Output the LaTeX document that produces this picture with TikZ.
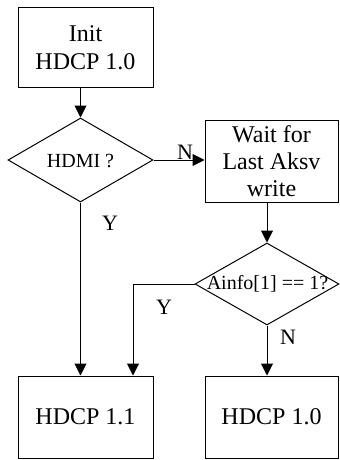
\documentclass[tikz,border=0pt]{standalone}
\usepackage{fontspec}
\setmainfont{Liberation Serif}
\usetikzlibrary{arrows.meta,shapes.geometric}
\begin{document}
\begin{tikzpicture}[x=0.75pt,y=-0.75pt,
  line width=0.75pt,
  box/.style={draw,rectangle,inner sep=0pt,align=center,font=\fontsize{18}{21}\selectfont},
  dec/.style={draw,diamond,inner sep=0pt},
  dectext/.style={inner sep=0pt,font=\fontsize{15}{18}\selectfont},
  lbl/.style={inner sep=0pt,font=\fontsize{16.5}{19}\selectfont},
  arr/.style={-{Triangle[length=9pt,width=9pt]}}]
\useasboundingbox (0,0) rectangle (339,460);
\node[box,minimum width=101.25pt,minimum height=59.25pt] (init) at (85.5,47.5) {Init\\HDCP 1.0};
\node[dec,minimum width=108.75pt,minimum height=63pt] (d1) at (80.5,160) {};
\node[dectext] (d1t) at (80.5,161) {HDMI ?};
\node[box,minimum width=99.75pt,minimum height=61.5pt,font=\fontsize{18}{20}\selectfont] (wait) at (271.5,161) {Wait for\\Last Aksv\\write};
\node[dec,minimum width=108pt,minimum height=61.5pt] (d2) at (267,284) {};
\node[dectext] (d2t) at (267.5,284) {Ainfo[1] == 1?};
\node[box,minimum width=101.25pt,minimum height=61.5pt] (h11) at (85.5,417) {HDCP 1.1};
\node[box,minimum width=99.75pt,minimum height=61.5pt] (h10) at (271.5,417) {HDCP 1.0};
\coordinate (yb) at (133,284);
\draw[arr] (d1.north |- init.south) -- (d1.north);
\draw[arr] (d1.east) -- (d1.east -| wait.west);
\draw[arr] (d2.north |- wait.south) -- (d2.north);
\draw[arr] (d1.south) -- (d1.south |- h11.north);
\draw[arr] (d2.west) -- (yb) -- (yb |- h11.north);
\draw[arr] (d2.south) -- (d2.south |- h10.north);
\node[lbl] (ln1) at (185,152) {N};
\node[lbl] (ly1) at (110,223) {Y};
\node[lbl] (ly2) at (164,307) {Y};
\node[lbl] (ln2) at (288,337) {N};
\end{tikzpicture}
\end{document}
